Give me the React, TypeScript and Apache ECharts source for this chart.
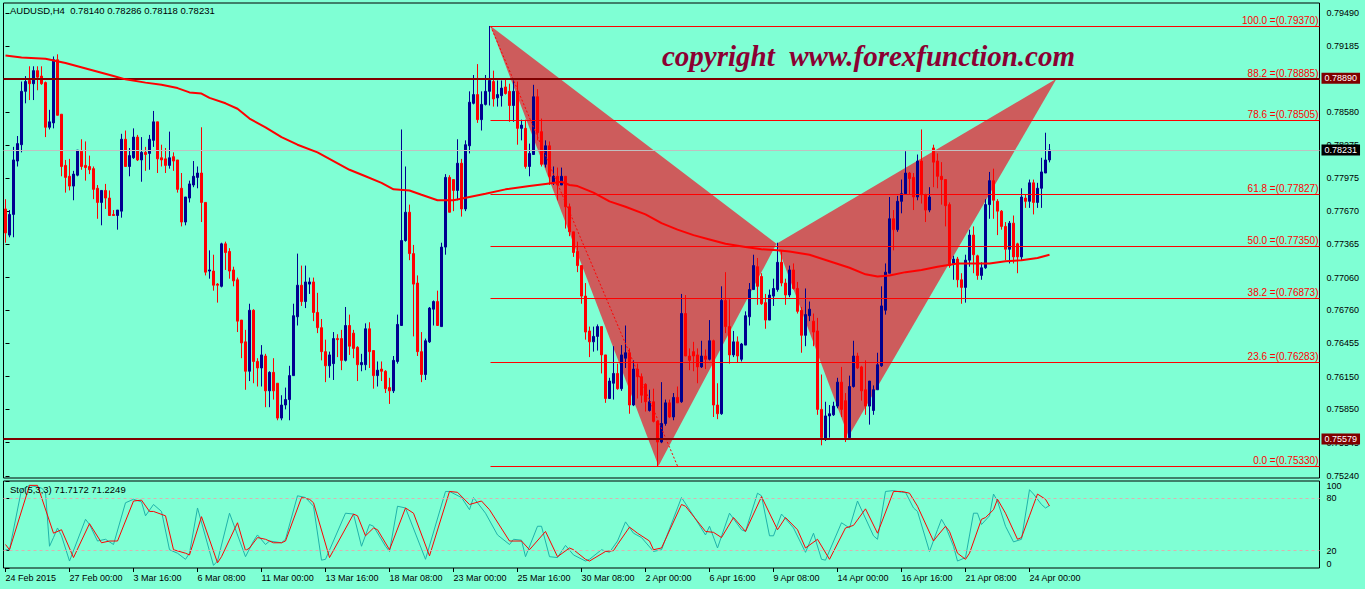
import React, { useEffect, useRef } from "react";
import * as echarts from "echarts";

const FONT = '"Liberation Sans", Arial, sans-serif';

const xLabels = ["24 Feb 2015", "27 Feb 00:00", "3 Mar 16:00", "6 Mar 08:00", "11 Mar 00:00", "13 Mar 16:00", "18 Mar 08:00", "23 Mar 00:00", "25 Mar 16:00", "30 Mar 08:00", "2 Apr 00:00", "6 Apr 16:00", "9 Apr 08:00", "14 Apr 00:00", "16 Apr 16:00", "21 Apr 08:00", "24 Apr 00:00"];
const xLabelStep = 16;
const slotCount = 329;

const priceTicks = [0.79490, 0.79185, 0.78880, 0.78580, 0.78275, 0.77975, 0.77670, 0.77365, 0.77060, 0.76760, 0.76455, 0.76150, 0.75850, 0.75545, 0.75240];
const stochTicks = [0, 20, 80, 100];

const opens = [0.7769,0.7745,0.7764,0.7813,0.7828,0.7877,0.7887,0.7884,0.7896,0.7891,
0.7885,0.7844,0.7848,0.7906,0.7856,0.7809,0.7799,0.7790,0.7800,0.7822,
0.7809,0.7808,0.7806,0.7788,0.7775,0.7786,0.7779,0.7764,0.7763,0.7767,
0.7833,0.7808,0.7816,0.7835,0.7814,0.7821,0.7820,0.7832,0.7849,0.7816,
0.7815,0.7809,0.7817,0.7814,0.7788,0.7757,0.7779,0.7791,0.7798,0.7802,
0.7775,0.7712,0.7712,0.7700,0.7698,0.7737,0.7730,0.7713,0.7704,0.7667,
0.7647,0.7620,0.7676,0.7629,0.7623,0.7634,0.7602,0.7619,0.7609,0.7577,
0.7589,0.7594,0.7616,0.7670,0.7699,0.7684,0.7700,0.7702,0.7674,0.7660,
0.7638,0.7625,0.7627,0.7650,0.7650,0.7630,0.7662,0.7655,0.7642,0.7626,
0.7626,0.7659,0.7639,0.7616,0.7622,0.7620,0.7605,0.7602,0.7629,0.7662,
0.7740,0.7766,0.7728,0.7701,0.7638,0.7617,0.7647,0.7677,0.7684,0.7661,
0.7734,0.7798,0.7796,0.7786,0.7811,0.7769,0.7827,0.7866,0.7874,0.7851,
0.7865,0.7877,0.7886,0.7871,0.7873,0.7881,0.7877,0.7864,0.7877,0.7843,
0.7843,0.7808,0.7819,0.7872,0.7840,0.7810,0.7827,0.7793,0.7799,0.7791,
0.7799,0.7771,0.7748,0.7730,0.7717,0.7689,0.7657,0.7647,0.7652,0.7661,
0.7635,0.7595,0.7609,0.7618,0.7604,0.7632,0.7637,0.7589,0.7622,0.7615,
0.7608,0.7584,0.7592,0.7574,0.7555,0.7572,0.7591,0.7578,0.7596,0.7592,
0.7673,0.7634,0.7638,0.7635,0.7624,0.7634,0.7631,0.7648,0.7589,0.7581,
0.7685,0.7661,0.7635,0.7647,0.7631,0.7644,0.7670,0.7695,0.7716,0.7707,
0.7683,0.7667,0.7689,0.7695,0.7720,0.7701,0.7690,0.7713,0.7696,0.7676,
0.7653,0.7671,0.7666,0.7657,0.7585,0.7558,0.7579,0.7580,0.7588,0.7610,
0.7593,0.7559,0.7606,0.7634,0.7624,0.7603,0.7588,0.7584,0.7603,0.7625,
0.7676,0.7710,0.7760,0.7750,0.7776,0.7783,0.7802,0.7798,0.7780,0.7813,
0.7782,0.7768,0.7825,0.7813,0.7799,0.7796,0.7773,0.7719,0.7723,0.7704,
0.7697,0.7722,0.7745,0.7726,0.7708,0.7715,0.7773,0.7795,0.7776,0.7767,
0.7753,0.7732,0.7756,0.7737,0.7725,0.7779,0.7776,0.7793,0.7775,0.7788,
0.7802,0.78140];

const highs = [0.7778,0.7768,0.7826,0.7836,0.7886,0.7891,0.7900,0.7900,0.7900,0.7900,
0.7886,0.7860,0.7909,0.7911,0.7856,0.7814,0.7815,0.7804,0.7823,0.7833,
0.7831,0.7818,0.7808,0.7791,0.7786,0.7792,0.7786,0.7768,0.7768,0.7838,
0.7841,0.7825,0.7843,0.7837,0.7835,0.7826,0.7837,0.7859,0.7849,0.7828,
0.7825,0.7840,0.7821,0.7814,0.7802,0.7780,0.7795,0.7813,0.7808,0.7844,
0.7775,0.7731,0.7727,0.7701,0.7738,0.7739,0.7733,0.7716,0.7706,0.7667,
0.7658,0.7682,0.7677,0.7632,0.7644,0.7636,0.7620,0.7632,0.7609,0.7598,
0.7605,0.7625,0.7682,0.7728,0.7717,0.7717,0.7706,0.7706,0.7692,0.7668,
0.7649,0.7638,0.7656,0.7654,0.7658,0.7679,0.7672,0.7658,0.7643,0.7636,
0.7664,0.7665,0.7639,0.7629,0.7629,0.7621,0.7614,0.7634,0.7672,0.7842,
0.7808,0.7773,0.7736,0.7708,0.7656,0.7650,0.7679,0.7685,0.7694,0.7738,
0.7801,0.7800,0.7796,0.7833,0.7815,0.7832,0.7877,0.7892,0.7902,0.7877,
0.7892,0.7937,0.7896,0.7887,0.7887,0.7889,0.7884,0.7887,0.7886,0.7851,
0.7851,0.7829,0.7883,0.7879,0.7852,0.7832,0.7831,0.7808,0.7807,0.7807,
0.7799,0.7774,0.7748,0.7739,0.7717,0.7701,0.7661,0.7661,0.7663,0.7661,
0.7635,0.7614,0.7643,0.7627,0.7644,0.7662,0.7641,0.7630,0.7627,0.7618,
0.7609,0.7603,0.7604,0.7575,0.7610,0.7594,0.7594,0.7600,0.7606,0.7691,
0.7690,0.7641,0.7647,0.7641,0.7648,0.7640,0.7667,0.7649,0.7609,0.7698,
0.7711,0.7686,0.7657,0.7652,0.7646,0.7675,0.7701,0.7727,0.7724,0.7710,
0.7691,0.7695,0.7705,0.7738,0.7731,0.7705,0.7717,0.7719,0.7702,0.7679,
0.7696,0.7684,0.7673,0.7669,0.7617,0.7592,0.7589,0.7592,0.7614,0.7624,
0.7600,0.7616,0.7648,0.7637,0.7625,0.7630,0.7611,0.7607,0.7637,0.7698,
0.7719,0.7780,0.7768,0.7781,0.7796,0.7822,0.7803,0.7802,0.7819,0.7842,
0.7783,0.7789,0.7828,0.7820,0.7812,0.7796,0.7775,0.7726,0.7725,0.7710,
0.7727,0.7750,0.7753,0.7727,0.7720,0.7778,0.7803,0.7806,0.7778,0.7768,
0.7757,0.7758,0.7763,0.7738,0.7788,0.7782,0.7796,0.7796,0.7793,0.7816,
0.7839,0.78286];

const lows = [0.7738,0.7743,0.7743,0.7808,0.7821,0.7866,0.7869,0.7869,0.7878,0.7883,
0.7835,0.7842,0.7843,0.7855,0.7799,0.7784,0.7786,0.7777,0.7799,0.7805,
0.7795,0.7801,0.7778,0.7760,0.7754,0.7769,0.7763,0.7763,0.7750,0.7761,
0.7808,0.7799,0.7815,0.7813,0.7794,0.7804,0.7805,0.7826,0.7802,0.7808,
0.7802,0.7806,0.7804,0.7784,0.7753,0.7754,0.7775,0.7789,0.7788,0.7757,
0.7708,0.7705,0.7694,0.7683,0.7697,0.7713,0.7705,0.7698,0.7656,0.7632,
0.7603,0.7611,0.7609,0.7606,0.7606,0.7587,0.7587,0.7594,0.7575,0.7575,
0.7585,0.7575,0.7616,0.7662,0.7680,0.7678,0.7691,0.7666,0.7655,0.7630,
0.7610,0.7614,0.7612,0.7633,0.7621,0.7629,0.7635,0.7632,0.7611,0.7620,
0.7621,0.7623,0.7604,0.7606,0.7611,0.7600,0.7590,0.7600,0.7627,0.7662,
0.7739,0.7722,0.7652,0.7634,0.7610,0.7612,0.7646,0.7662,0.7662,0.7661,
0.7727,0.7766,0.7767,0.7777,0.7762,0.7767,0.7820,0.7865,0.7848,0.7841,
0.7864,0.7864,0.7863,0.7863,0.7863,0.7874,0.7849,0.7849,0.7828,0.7832,
0.7806,0.7799,0.7819,0.7832,0.7808,0.7807,0.7791,0.7791,0.7777,0.7791,
0.7751,0.7744,0.7725,0.7711,0.7682,0.7649,0.7633,0.7638,0.7639,0.7618,
0.7591,0.7595,0.7594,0.7603,0.7602,0.7623,0.7581,0.7588,0.7595,0.7591,
0.7583,0.7583,0.7573,0.7533,0.7554,0.7570,0.7577,0.7575,0.7591,0.7591,
0.7634,0.7621,0.7620,0.7609,0.7623,0.7622,0.7630,0.7578,0.7576,0.7580,
0.7655,0.7627,0.7633,0.7628,0.7629,0.7644,0.7662,0.7695,0.7681,0.7681,
0.7659,0.7667,0.7680,0.7693,0.7698,0.7681,0.7688,0.7695,0.7673,0.7637,
0.7643,0.7666,0.7643,0.7580,0.7552,0.7556,0.7559,0.7579,0.7586,0.7578,
0.7555,0.7557,0.7605,0.7622,0.7593,0.7580,0.7571,0.7580,0.7603,0.7624,
0.7672,0.7710,0.7731,0.7748,0.7765,0.7783,0.7782,0.7768,0.7777,0.7774,
0.7757,0.7766,0.7789,0.7788,0.7773,0.7753,0.7715,0.7704,0.7697,0.7682,
0.7683,0.7716,0.7710,0.7704,0.7704,0.7714,0.7760,0.7760,0.7745,0.7750,
0.7722,0.7719,0.7719,0.7710,0.7722,0.7770,0.7770,0.7764,0.7770,0.7770,
0.7802,0.78118];

const closes = [0.7747,0.7764,0.7814,0.7829,0.7877,0.7886,0.7884,0.7896,0.7890,0.7884,
0.7844,0.7849,0.7906,0.7855,0.7808,0.7798,0.7790,0.7801,0.7823,0.7808,
0.7807,0.7805,0.7787,0.7775,0.7786,0.7779,0.7763,0.7763,0.7768,0.7833,
0.7808,0.7818,0.7835,0.7814,0.7821,0.7819,0.7833,0.7849,0.7815,0.7814,
0.7809,0.7816,0.7813,0.7787,0.7757,0.7780,0.7792,0.7799,0.7802,0.7775,
0.7711,0.7713,0.7699,0.7699,0.7737,0.7729,0.7712,0.7703,0.7666,0.7646,
0.7620,0.7676,0.7629,0.7623,0.7635,0.7602,0.7619,0.7602,0.7577,0.7589,
0.7594,0.7616,0.7671,0.7699,0.7684,0.7702,0.7702,0.7674,0.7660,0.7638,
0.7625,0.7635,0.7650,0.7649,0.7630,0.7662,0.7643,0.7641,0.7626,0.7628,
0.7659,0.7638,0.7616,0.7621,0.7620,0.7604,0.7602,0.7630,0.7663,0.7740,
0.7766,0.7728,0.7700,0.7638,0.7617,0.7648,0.7678,0.7684,0.7662,0.7734,
0.7798,0.7766,0.7786,0.7811,0.7769,0.7828,0.7867,0.7874,0.7851,0.7865,
0.7877,0.7887,0.7870,0.7874,0.7880,0.7875,0.7864,0.7877,0.7843,0.7846,
0.7808,0.7820,0.7872,0.7839,0.7810,0.7827,0.7799,0.7799,0.7791,0.7799,
0.7771,0.7748,0.7729,0.7717,0.7689,0.7656,0.7647,0.7652,0.7661,0.7635,
0.7595,0.7611,0.7618,0.7604,0.7635,0.7637,0.7589,0.7622,0.7615,0.7598,
0.7592,0.7592,0.7574,0.7555,0.7572,0.7591,0.7578,0.7596,0.7591,0.7673,
0.7634,0.7630,0.7634,0.7624,0.7634,0.7631,0.7648,0.7589,0.7581,0.7685,
0.7661,0.7635,0.7647,0.7634,0.7645,0.7671,0.7695,0.7717,0.7698,0.7682,
0.7667,0.7690,0.7696,0.7720,0.7701,0.7690,0.7713,0.7696,0.7675,0.7653,
0.7672,0.7677,0.7656,0.7585,0.7559,0.7579,0.7581,0.7588,0.7610,0.7585,
0.7559,0.7606,0.7634,0.7623,0.7602,0.7588,0.7611,0.7603,0.7626,0.7680,
0.7711,0.7760,0.7750,0.7776,0.7783,0.7802,0.7797,0.7780,0.7813,0.7782,
0.7768,0.7780,0.7812,0.7799,0.7796,0.7772,0.7717,0.7723,0.7704,0.7697,
0.7722,0.7745,0.7727,0.7708,0.7715,0.7773,0.7795,0.7777,0.7767,0.7753,
0.7732,0.7756,0.7725,0.7725,0.7780,0.7776,0.7793,0.7775,0.7788,0.7803,
0.7814,0.78231];

// Moving average (bar index, value)
const maIdx = [0,4,10,15,18,21,24,27,30,35,39,43,46,49,51,55,58,61,65,69,73,78,82,86,90,94,97,101,104,108,112,116,120,125,131,135,139,141,143,147,151,155,160,164,168,172,176,180,185,189,193,196,201,206,211,215,218,221,225,229,233,238,242,246,250,254,258,261];
const maVal = [0.7910,0.7908,0.7907,0.7903,0.7900,0.7897,0.7894,0.7891,0.7888,0.7885,0.7883,0.7880,0.7876,0.7875,0.7871,0.7866,0.7861,0.7852,0.7844,0.7835,0.7828,0.7821,0.7813,0.7805,0.7799,0.7793,0.7787,0.7786,0.7782,0.7777,0.7777,0.7780,0.7783,0.7787,0.7790,0.7792,0.7794,0.7791,0.7790,0.7784,0.7776,0.7771,0.7764,0.7756,0.7750,0.7745,0.7741,0.7737,0.7734,0.7732,0.7731,0.7730,0.7727,0.7721,0.7715,0.7709,0.7707,0.7708,0.7711,0.7713,0.7716,0.7719,0.7719,0.7719,0.7721,0.7722,0.7724,0.7727];

// Stochastic main line (bar index, value)
const stoMainIdx = [0,1,4,6,9,10,11,12,13,14,16,20,21,23,25,27,30,32,34,35,37,39,41,43,45,46,48,52,53,56,60,62,63,65,66,69,70,73,75,77,79,80,85,87,89,91,92,95,96,98,100,105,110,111,114,116,117,118,120,123,126,127,129,130,133,134,136,138,140,142,145,146,149,151,153,155,157,159,162,164,168,169,172,175,176,178,181,184,185,188,189,191,192,194,197,200,202,204,205,209,211,213,217,218,220,222,224,225,227,228,231,233,234,235,237,238,240,242,243,244,246,247,248,250,252,254,256,257,259,260,261];
const stoMainVal = [21,21,90,95,92,87,25,35,46,37,8,56,50,31,33,27,75,79,76,60,73,65,21,17,10,17,69,3,8,63,13,31,38,27,31,29,33,83,81,71,9,10,63,62,25,50,48,25,19,71,69,10,88,88,81,67,81,75,63,38,27,33,32,13,48,48,13,12,26,15,8,10,21,18,31,53,40,35,19,21,69,81,60,38,48,23,63,44,42,86,83,37,37,62,46,18,40,10,9,52,46,77,37,33,88,89,87,87,69,65,19,44,56,48,25,8,12,63,63,50,60,85,77,48,30,33,90,85,73,69,71.7172];

// Stochastic signal line (bar index, value)
const stoSigIdx = [0,1,6,8,12,14,17,21,24,26,28,32,34,36,37,40,42,45,46,49,53,54,58,60,61,63,65,67,69,70,74,76,77,81,87,88,90,92,93,96,100,102,106,111,113,116,119,121,126,129,131,135,138,141,142,145,146,150,152,153,156,158,161,162,164,169,170,175,177,179,182,185,189,193,195,198,200,203,206,210,212,215,218,222,224,226,228,232,233,235,236,238,240,241,244,245,247,248,250,253,254,256,258,260,261];
const stoSigVal = [27,21,95,95,40,44,12,51,29,31,31,77,78,65,65,60,21,17,15,59,6,13,52,20,23,35,33,29,29,31,81,79,75,12,62,60,37,46,44,21,69,63,14,88,87,73,77,67,31,31,21,42,13,23,21,10,8,19,20,27,47,40,31,21,23,73,71,42,41,35,58,42,82,44,58,44,23,33,10,46,49,68,40,88,88,86,71,31,37,48,42,17,10,17,56,58,67,79,63,33,35,60,85,79,71.2249];

// Harmonic pattern points X, A, B, C, D (bar position, price)
const patternX = [121.25, 163.25, 192.75, 210.75, 262.75];
const patternY = [0.79370, 0.75330, 0.77370, 0.75600, 0.78885];

// Fibonacci retracement
const fibStart = 121.25;
const fibPcts = [100.0, 88.2, 78.6, 61.8, 50.0, 38.2, 23.6, 0.0];
const fibPrices = [0.79370, 0.78885, 0.78505, 0.77827, 0.77350, 0.76873, 0.76283, 0.75330];
const fibTrendX = [121.25, 168];
const fibTrendY = [0.79370, 0.75330];

// Horizontal levels
const hLevels = [0.78890, 0.75579];

export default function App() {
  const ref = useRef<HTMLDivElement>(null);
  useEffect(() => {
    const chart = echarts.init(ref.current!, null, { renderer: "svg" });
    const n = opens.length;
    const candleData = opens.map((o, i) => [o, closes[i], lows[i], highs[i]]);
    const bid = closes[n - 1];
    const labelIdx = xLabels.map((_, k) => k * xLabelStep);
    const tri = [
      [patternX[0], patternY[0], patternX[1], patternY[1], patternX[2], patternY[2]],
      [patternX[2], patternY[2], patternX[3], patternY[3], patternX[4], patternY[4]],
    ];
    const badge = (bg: string, v: number) => ({
      show: true,
      position: "end",
      distance: 2,
      formatter: () => v.toFixed(5),
      color: "#ffffff",
      backgroundColor: bg,
      padding: [1, 3, 0, 3],
      fontSize: 9,
      lineHeight: 10,
      fontFamily: FONT,
    });
    const title = `AUDUSD,H4  ${opens[n - 1].toFixed(5)} ${highs[n - 1].toFixed(5)} ${lows[n - 1].toFixed(5)} ${closes[n - 1].toFixed(5)}`;
    const stoTitle = `Sto(5,3,3) ${stoMainVal[stoMainVal.length - 1].toFixed(4)} ${stoSigVal[stoSigVal.length - 1].toFixed(4)}`;

    const gridLeft = 3.5;
    const gridWidth = slotCount * 4;

    const option: any = {
      animation: false,
      backgroundColor: "#7FFFD4",
      textStyle: { fontFamily: FONT },
      grid: [
        { left: gridLeft, top: 3, width: gridWidth, height: 475, show: true, borderColor: "#000", borderWidth: 1, backgroundColor: "transparent" },
        { left: gridLeft, top: 481, width: gridWidth, height: 87, show: true, borderColor: "#000", borderWidth: 1, backgroundColor: "transparent" },
      ],
      xAxis: [
        { type: "category", gridIndex: 0, data: Array.from({ length: slotCount }, (_, i) => String(i)), boundaryGap: true, show: false },
        { type: "value", gridIndex: 0, min: -0.5, max: slotCount - 0.5, show: false },
        {
          type: "value", gridIndex: 1, min: -0.5, max: slotCount - 0.5,
          splitLine: { show: false },
          axisLine: { show: false },
          axisTick: { show: true, length: 4, lineStyle: { color: "#000" }, customValues: labelIdx },
          axisLabel: {
            customValues: labelIdx,
            formatter: (v: number) => xLabels[Math.round(v / xLabelStep)] ?? "",
            align: "left", color: "#000", fontSize: 9, fontFamily: FONT, margin: 5,
          },
        },
      ],
      yAxis: [
        {
          type: "value", gridIndex: 0, position: "right", min: 0.7522, max: 0.79581,
          splitLine: { show: false },
          axisLine: { show: false },
          axisTick: { show: true, length: 4, lineStyle: { color: "#000" }, customValues: priceTicks },
          axisLabel: { customValues: priceTicks, formatter: (v: number) => v.toFixed(5), color: "#000", fontSize: 9, fontFamily: FONT, margin: 7 },
        },
        {
          type: "value", gridIndex: 1, position: "right", min: 0, max: 100,
          splitLine: { show: false },
          axisLine: { show: false },
          axisTick: { show: true, length: 4, lineStyle: { color: "#000" }, customValues: stochTicks },
          axisLabel: {
            customValues: stochTicks, formatter: (v: number) => String(v), color: "#000", fontSize: 9, fontFamily: FONT, margin: 7,
            verticalAlignMinLabel: "bottom", verticalAlignMaxLabel: "top",
          },
        },
      ],
      series: [
        {
          type: "custom", name: "pattern", xAxisIndex: 1, yAxisIndex: 0, z: 1, clip: false, silent: true,
          data: tri,
          renderItem: (params: any, api: any) => {
            const pts = [0, 1, 2].map((k) => api.coord([api.value(k * 2), api.value(k * 2 + 1)]));
            return { type: "polygon", shape: { points: pts }, style: { fill: "#CD5C5C" } };
          },
        },
        {
          type: "candlestick", xAxisIndex: 0, yAxisIndex: 0, z: 3,
          data: candleData, barWidth: 2,
          itemStyle: { color: "#000090", color0: "#ff0000", borderColor: "#000090", borderColor0: "#ff0000", borderWidth: 1 },
          markLine: {
            silent: true, symbol: ["none", "none"], animation: false, precision: 5,
            data: [
              { yAxis: hLevels[0], lineStyle: { color: "#800000", width: 2, type: "solid" }, label: badge("#800000", hLevels[0]) },
              { yAxis: hLevels[1], lineStyle: { color: "#800000", width: 2, type: "solid" }, label: badge("#800000", hLevels[1]) },
              { yAxis: bid, lineStyle: { color: "#C0C0C0", width: 1, type: "solid" }, label: badge("#000000", bid) },
            ],
          },
        },
        {
          type: "custom", name: "fib", xAxisIndex: 1, yAxisIndex: 0, z: 4, clip: false, silent: true,
          data: fibPrices.map((p, k) => [fibStart, p, fibPcts[k]]),
          renderItem: (params: any, api: any) => {
            const pt = api.coord([api.value(0), api.value(1)]);
            const right = params.coordSys.x + params.coordSys.width;
            const y = Math.round(pt[1]) + 0.5;
            return {
              type: "group",
              children: [
                { type: "line", shape: { x1: pt[0], y1: y, x2: right, y2: y }, style: { stroke: "#ff0000", lineWidth: 1 } },
                {
                  type: "text",
                  style: {
                    text: `${Number(api.value(2)).toFixed(1)} =(${Number(api.value(1)).toFixed(5)})`,
                    x: right - 1, y: y - 1, align: "right", verticalAlign: "bottom",
                    fill: "#ff0000", fontSize: 10, fontFamily: FONT,
                  },
                },
              ],
            };
          },
        },
        {
          type: "line", xAxisIndex: 1, yAxisIndex: 0, z: 4, silent: true, symbol: "none",
          data: fibTrendX.map((x, k) => [x, fibTrendY[k]]),
          lineStyle: { color: "#ff0000", width: 1, type: [2, 2] },
        },
        {
          type: "line", xAxisIndex: 1, yAxisIndex: 0, z: 5, silent: true, symbol: "none",
          data: maIdx.map((x, k) => [x, maVal[k]]),
          lineStyle: { color: "#ff0000", width: 2 },
        },
        {
          type: "line", xAxisIndex: 2, yAxisIndex: 1, z: 3, silent: true, symbol: "none",
          data: stoMainIdx.map((x, k) => [x, stoMainVal[k]]),
          lineStyle: { color: "#20B2AA", width: 1 },
          markLine: {
            silent: true, symbol: ["none", "none"], animation: false, label: { show: false },
            lineStyle: { color: "#dcb0b0", width: 1, type: [3, 3] },
            data: [{ yAxis: 20 }, { yAxis: 80 }],
          },
        },
        {
          type: "line", xAxisIndex: 2, yAxisIndex: 1, z: 4, silent: true, symbol: "none",
          data: stoSigIdx.map((x, k) => [x, stoSigVal[k]]),
          lineStyle: { color: "#ff0000", width: 1 },
        },
      ],
      graphic: [
        { type: "text", left: 10, top: 5, z: 10, style: { text: title, fontSize: 9.5, fontFamily: FONT, fill: "#000" } },
        { type: "text", left: 10, top: 484, z: 10, style: { text: stoTitle, fontSize: 9.5, fontFamily: FONT, fill: "#000" } },
        {
          type: "text", left: 662, top: 41, z: 10,
          style: { text: "copyright  www.forexfunction.com", fontSize: 29, fontStyle: "italic", fontWeight: "bold", fontFamily: '"Liberation Serif", "Times New Roman", serif', fill: "#8B0032" },
        },
      ],
    };
    chart.setOption(option);
    return () => chart.dispose();
  }, []);
  return <div ref={ref} style={{ position: "absolute", left: 0, top: 0, width: 1365, height: 589 }} />;
}
